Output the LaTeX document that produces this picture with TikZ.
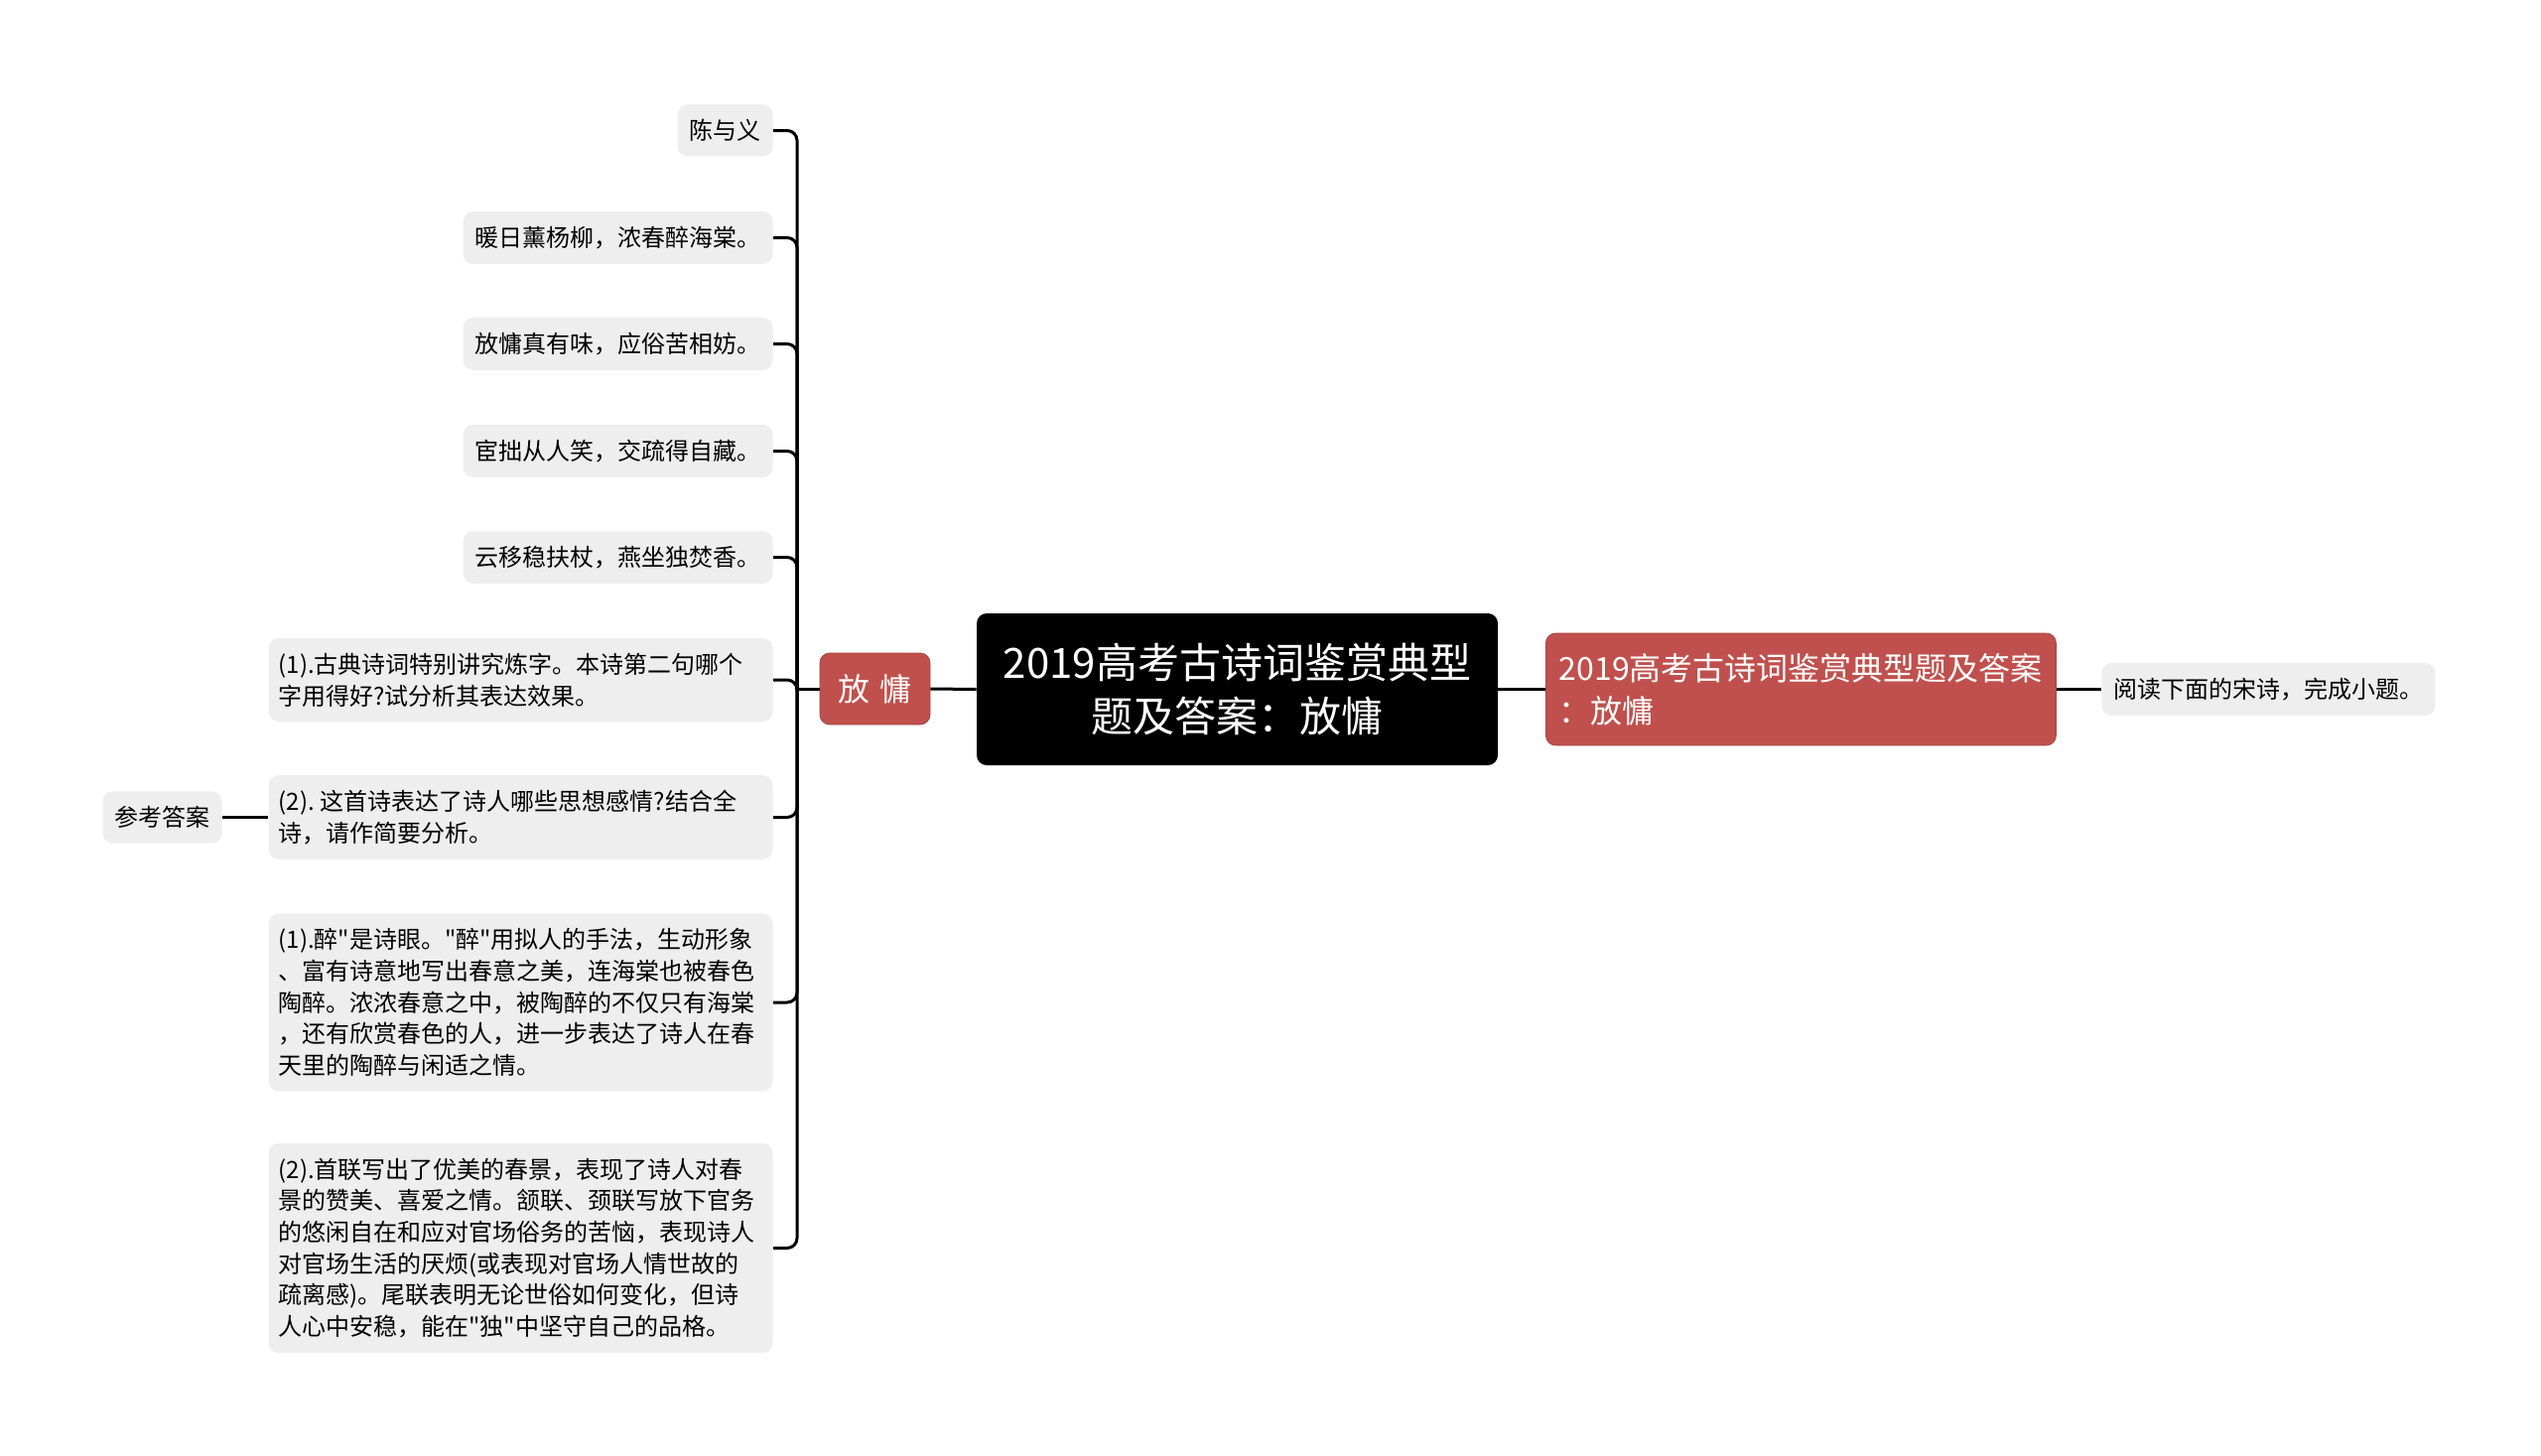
\documentclass[tikz,border=0pt]{standalone}
\usepackage{fontspec}
\setmainfont{Noto Sans CJK SC}[Ligatures=TeXOff]
\definecolor{mapred}{RGB}{192,80,77}
\definecolor{mapgray}{RGB}{238,238,238}

\begin{document}
\begin{tikzpicture}[x=0.5pt,y=-0.5pt,
    leaf/.style={fill=mapgray,rounded corners=5pt,inner xsep=6pt,inner ysep=7.5pt,align=left,anchor=east,font=\fontsize{12pt}{15.85pt}\selectfont},
    wideleaf/.style={leaf,inner xsep=5pt,text width=244pt},
    topic/.style={fill=mapred,draw=mapred!85!black,rounded corners=5pt,text=white,font=\fontsize{16pt}{21.5pt}\selectfont},
    branch/.style={line width=1.5pt,rounded corners=5pt}]
\useasboundingbox (0,0) rectangle (2560,1467);
\node [fill=black,text=white,rounded corners=5pt,minimum width=262.5pt,minimum height=76.5pt,align=center,font=\fontsize{21pt}{27pt}\selectfont] (root) at (1246.5,694.5) {2019高考古诗词鉴赏典型\\题及答案：放慵};
\node [topic,anchor=west,minimum width=257pt,minimum height=56.5pt,align=left] (sub) at (1557,694.5) {2019高考古诗词鉴赏典型题及答案\\：放慵};
\node [leaf,anchor=west] (read) at (2117,694.5) {阅读下面的宋诗，完成小题。};
\node [topic,minimum width=55.5pt,minimum height=36pt] (fy) at (881.5,694) {放\hspace{0.3em}慵};
\coordinate (trunk) at (803,694);
% poem lines
\node [leaf] (c1) at (779,131.5) {陈与义};
\node [leaf] (c2) at (779,239.5) {暖日薰杨柳，浓春醉海棠。};
\node [leaf] (c3) at (779,346.5) {放慵真有味，应俗苦相妨。};
\node [leaf] (c4) at (779,454.5) {宦拙从人笑，交疏得自藏。};
\node [leaf] (c5) at (779,561.5) {云移稳扶杖，燕坐独焚香。};
% questions and answers
\node [wideleaf] (c6) at (779,685) {(1).古典诗词特别讲究炼字。本诗第二句哪个\\字用得好?试分析其表达效果。};
\node [wideleaf] (c7) at (779,823.5) {(2).\hspace{0.25em}这首诗表达了诗人哪些思想感情?结合全\\诗，请作简要分析。};
\node [wideleaf] (c8) at (779,1010) {(1).醉"是诗眼。"醉"用拟人的手法，生动形象\\、富有诗意地写出春意之美，连海棠也被春色\\陶醉。浓浓春意之中，被陶醉的不仅只有海棠\\，还有欣赏春色的人，进一步表达了诗人在春\\天里的陶醉与闲适之情。};
\node [wideleaf] (c9) at (779,1257.5) {(2).首联写出了优美的春景，表现了诗人对春\\景的赞美、喜爱之情。颔联、颈联写放下官务\\的悠闲自在和应对官场俗务的苦恼，表现诗人\\对官场生活的厌烦(或表现对官场人情世故的\\疏离感)。尾联表明无论世俗如何变化，但诗\\人心中安稳，能在"独"中坚守自己的品格。};
\node [leaf] (ans) at (224,823.5) {参考答案};
\draw [branch] (root.east) -- (sub.west);
\draw [branch] (sub.east) -- (read.west);
\draw [branch] (root.west) -- (fy.east);
\draw [branch] (fy.west) -- (trunk);
\foreach \c in {c1,c2,c3,c4,c5,c6,c7,c8,c9}
    \draw [branch] (trunk) |- (\c.east);
\draw [branch] (c7.west) -- (ans.east);
\end{tikzpicture}
\end{document}
